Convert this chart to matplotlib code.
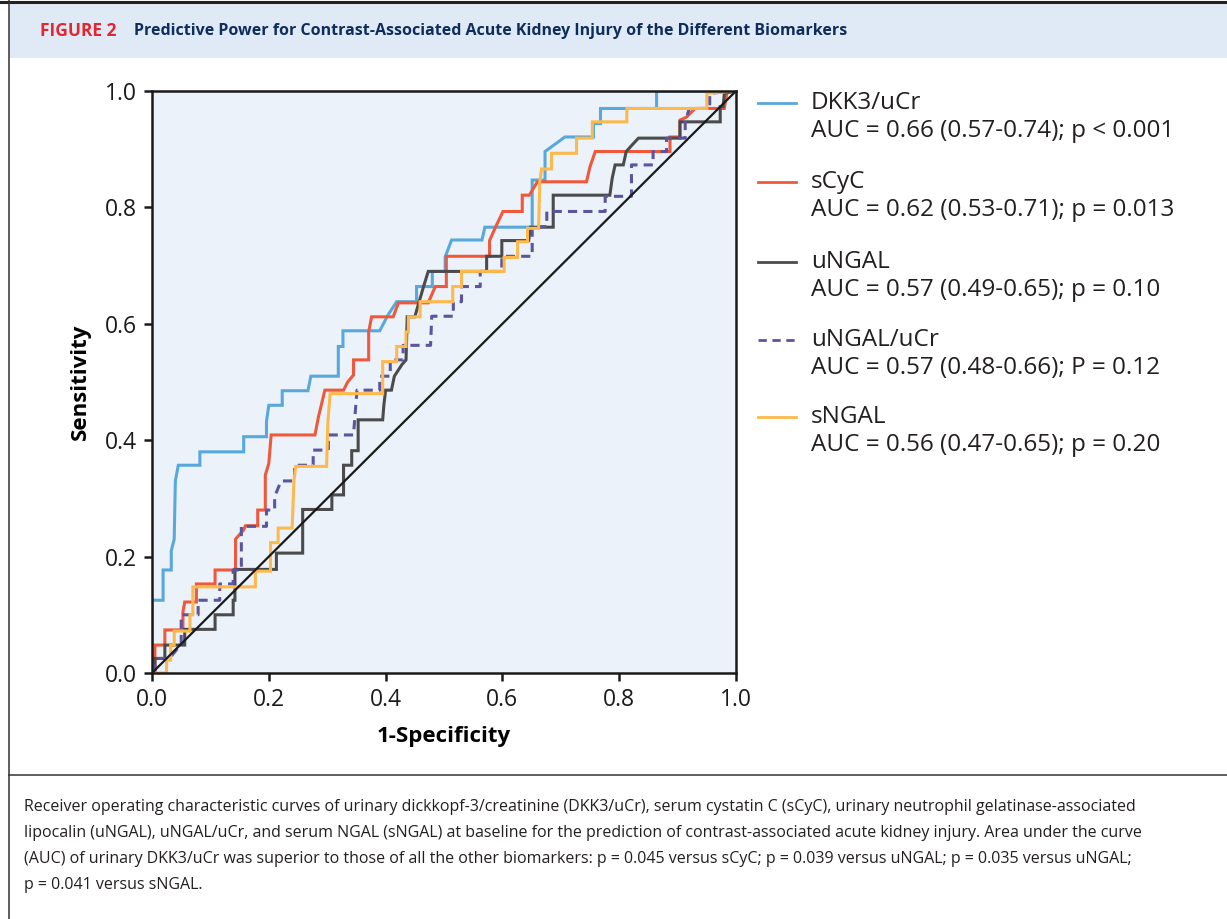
"""
ROC curves for contrast-associated AKI biomarkers (Figure 2 re-draw).
"""
import matplotlib
matplotlib.use("Agg")
import matplotlib.pyplot as plt
from matplotlib.lines import Line2D
from matplotlib.patches import Rectangle

plt.rcParams["font.family"] = ["Open Sans", "DejaVu Sans"]

# ── ROC step vertices (1-specificity, sensitivity) ────
DKK3_ROC = [(0, 0), (0, 0.125), (0.019, 0.125), (0.019, 0.177), (0.033, 0.177),
            (0.033, 0.210), (0.038, 0.230), (0.040, 0.330), (0.045, 0.357),
            (0.082, 0.357), (0.082, 0.380), (0.157, 0.380), (0.157, 0.406),
            (0.196, 0.406), (0.196, 0.432), (0.200, 0.460), (0.223, 0.460),
            (0.223, 0.485), (0.267, 0.485), (0.272, 0.510), (0.319, 0.510),
            (0.319, 0.561), (0.327, 0.561), (0.327, 0.588), (0.390, 0.588),
            (0.404, 0.615), (0.419, 0.638), (0.453, 0.638), (0.453, 0.664),
            (0.480, 0.664), (0.480, 0.690), (0.502, 0.690), (0.502, 0.715),
            (0.513, 0.744), (0.565, 0.744), (0.570, 0.766), (0.651, 0.766),
            (0.651, 0.847), (0.673, 0.847), (0.673, 0.896), (0.707, 0.921),
            (0.756, 0.921), (0.756, 0.944), (0.768, 0.944), (0.768, 0.970),
            (0.864, 0.970), (0.864, 1.0), (1.0, 1.0)]

SCYC_ROC = [(0, 0), (0.005, 0), (0.005, 0.048), (0.022, 0.048), (0.022, 0.074),
            (0.053, 0.074), (0.053, 0.105), (0.056, 0.122), (0.076, 0.122),
            (0.076, 0.153), (0.108, 0.153), (0.108, 0.177), (0.143, 0.177),
            (0.143, 0.230), (0.157, 0.246), (0.160, 0.253), (0.181, 0.253),
            (0.181, 0.280), (0.194, 0.280), (0.194, 0.340), (0.200, 0.360),
            (0.204, 0.409), (0.279, 0.409), (0.285, 0.440), (0.296, 0.486),
            (0.328, 0.486), (0.335, 0.500), (0.345, 0.512), (0.345, 0.538),
            (0.371, 0.538), (0.371, 0.586), (0.376, 0.612), (0.413, 0.612),
            (0.422, 0.636), (0.473, 0.636), (0.485, 0.664), (0.504, 0.664),
            (0.504, 0.716), (0.578, 0.716), (0.578, 0.743), (0.590, 0.770),
            (0.601, 0.793), (0.634, 0.793), (0.634, 0.821), (0.646, 0.821),
            (0.660, 0.844), (0.744, 0.844), (0.750, 0.870), (0.759, 0.896),
            (0.887, 0.896), (0.887, 0.921), (0.904, 0.921), (0.904, 0.950),
            (0.915, 0.955), (0.930, 0.970), (0.980, 0.970), (0.985, 1.0),
            (1.0, 1.0)]

UNGAL_ROC = [(0, 0), (0.005, 0), (0.005, 0.025), (0.022, 0.025), (0.022, 0.048),
             (0.056, 0.048), (0.056, 0.075), (0.108, 0.075), (0.108, 0.100),
             (0.139, 0.100), (0.139, 0.125), (0.142, 0.125), (0.142, 0.178),
             (0.213, 0.178), (0.213, 0.206), (0.258, 0.206), (0.258, 0.281),
             (0.308, 0.281), (0.308, 0.306), (0.328, 0.306), (0.328, 0.357),
             (0.342, 0.357), (0.342, 0.382), (0.353, 0.382), (0.353, 0.435),
             (0.395, 0.435), (0.397, 0.460), (0.400, 0.486), (0.410, 0.486),
             (0.415, 0.510), (0.428, 0.530), (0.435, 0.538), (0.437, 0.612),
             (0.450, 0.612), (0.458, 0.640), (0.465, 0.664), (0.473, 0.690),
             (0.573, 0.690), (0.573, 0.716), (0.599, 0.716), (0.599, 0.743),
             (0.645, 0.743), (0.648, 0.766), (0.687, 0.766), (0.687, 0.821),
             (0.784, 0.821), (0.788, 0.850), (0.793, 0.873), (0.807, 0.873),
             (0.812, 0.896), (0.820, 0.905), (0.833, 0.919), (0.904, 0.919),
             (0.904, 0.947), (0.973, 0.947), (0.973, 0.973), (0.978, 0.973),
             (0.980, 0.996), (1.0, 1.0)]

UNGAL_UCR_ROC = [(0, 0), (0.010, 0.025), (0.030, 0.025), (0.050, 0.050),
                 (0.050, 0.100), (0.079, 0.100), (0.079, 0.125), (0.116, 0.125),
                 (0.116, 0.153), (0.139, 0.153), (0.139, 0.177), (0.153, 0.177),
                 (0.153, 0.252), (0.196, 0.252), (0.196, 0.280), (0.210, 0.280),
                 (0.210, 0.303), (0.221, 0.330), (0.244, 0.330), (0.244, 0.357),
                 (0.276, 0.357), (0.276, 0.383), (0.302, 0.383), (0.302, 0.409),
                 (0.345, 0.409), (0.351, 0.486), (0.390, 0.486), (0.390, 0.510),
                 (0.408, 0.510), (0.408, 0.538), (0.430, 0.538), (0.430, 0.563),
                 (0.477, 0.563), (0.479, 0.613), (0.516, 0.613), (0.516, 0.638),
                 (0.530, 0.638), (0.530, 0.664), (0.562, 0.664), (0.562, 0.690),
                 (0.599, 0.690), (0.599, 0.716), (0.651, 0.716), (0.651, 0.767),
                 (0.676, 0.767), (0.676, 0.793), (0.776, 0.793), (0.776, 0.819),
                 (0.821, 0.819), (0.821, 0.873), (0.858, 0.873), (0.858, 0.896),
                 (0.881, 0.896), (0.881, 0.919), (0.913, 0.919), (0.913, 0.947),
                 (0.920, 0.970), (0.955, 0.970), (0.955, 0.996), (1.0, 1.0)]

SNGAL_ROC = [(0, 0), (0.025, 0), (0.025, 0.022), (0.032, 0.022), (0.032, 0.048),
             (0.038, 0.048), (0.038, 0.072), (0.065, 0.072), (0.065, 0.100),
             (0.070, 0.100), (0.070, 0.148), (0.177, 0.148), (0.177, 0.175),
             (0.203, 0.175), (0.203, 0.224), (0.216, 0.224), (0.216, 0.249),
             (0.240, 0.249), (0.243, 0.330), (0.246, 0.355), (0.299, 0.355),
             (0.301, 0.429), (0.305, 0.480), (0.395, 0.480), (0.395, 0.535),
             (0.419, 0.535), (0.419, 0.561), (0.435, 0.561), (0.435, 0.586),
             (0.439, 0.586), (0.439, 0.612), (0.459, 0.612), (0.459, 0.638),
             (0.515, 0.638), (0.515, 0.664), (0.530, 0.664), (0.530, 0.690),
             (0.603, 0.690), (0.603, 0.714), (0.626, 0.714), (0.626, 0.741),
             (0.643, 0.741), (0.643, 0.764), (0.662, 0.764), (0.664, 0.844),
             (0.667, 0.866), (0.684, 0.866), (0.684, 0.893), (0.727, 0.893),
             (0.727, 0.919), (0.754, 0.919), (0.754, 0.947), (0.813, 0.947),
             (0.813, 0.970), (0.950, 0.970), (0.950, 0.996), (1.0, 1.0)]

NAMES = ["DKK3/uCr", "sCyC", "uNGAL", "uNGAL/uCr", "sNGAL"]
AUC_TEXT = ["AUC = 0.66 (0.57-0.74); p < 0.001",
            "AUC = 0.62 (0.53-0.71); p = 0.013",
            "AUC = 0.57 (0.49-0.65); p = 0.10",
            "AUC = 0.57 (0.48-0.66); P = 0.12",
            "AUC = 0.56 (0.47-0.65); p = 0.20"]
CURVES = [DKK3_ROC, SCYC_ROC, UNGAL_ROC, UNGAL_UCR_ROC, SNGAL_ROC]
COLOURS = ["#58a8dc", "#f0583c", "#4b4b4d", "#5c559e", "#fdb94b"]
STYLES = ["-", "-", "-", (0, (3, 2)), "-"]

TICKS = [0.0, 0.2, 0.4, 0.6, 0.8, 1.0]

CAPTION = [
    "Receiver operating characteristic curves of urinary dickkopf-3/creatinine (DKK3/uCr), serum cystatin C (sCyC), urinary neutrophil gelatinase-associated",
    "lipocalin (uNGAL), uNGAL/uCr, and serum NGAL (sNGAL) at baseline for the prediction of contrast-associated acute kidney injury. Area under the curve",
    "(AUC) of urinary DKK3/uCr was superior to those of all the other biomarkers: p = 0.045 versus sCyC; p = 0.039 versus uNGAL; p = 0.035 versus uNGAL;",
    "p = 0.041 versus sNGAL.",
]

W, H = 1227, 919
fig = plt.figure(figsize=(W / 100, H / 100), dpi=100)
fig.patch.set_facecolor("white")

def fx(px):
    return px / W

def fy(py):
    return 1 - py / H

# ── Frame: header band, borders, caption separator ───────────────────────
fig.add_artist(Rectangle((fx(9), fy(58)), 1 - fx(9), fy(3) - fy(58),
                         transform=fig.transFigure, facecolor="#dfeaf6",
                         edgecolor="none", zorder=0))
fig.add_artist(Line2D([0, 1], [fy(1.5), fy(1.5)], transform=fig.transFigure,
                      color="#222222", lw=2.2))
fig.add_artist(Line2D([fx(8.5), fx(8.5)], [0, 1], transform=fig.transFigure,
                      color="#333333", lw=1.1))
fig.add_artist(Line2D([fx(8.5), 1], [fy(775), fy(775)], transform=fig.transFigure,
                      color="#333333", lw=1.1))

fig.text(fx(40), fy(31), "FIGURE 2", color="#e3262f", fontsize=12.5,
         fontweight="bold", va="center", ha="left")
fig.text(fx(134), fy(31),
         "Predictive Power for Contrast-Associated Acute Kidney Injury of the Different Biomarkers",
         color="#0f2d5c", fontsize=11.5, fontweight="bold", va="center", ha="left")

for i, line in enumerate(CAPTION):
    fig.text(fx(24), fy(807 + 26 * i), line, fontsize=11.5, color="#231f20",
             va="center", ha="left")

# ── ROC axes ──────────────────────────────────────────────────────────────
ax = fig.add_axes([fx(152), fy(673), fx(736) - fx(152), fy(91) - fy(673)])
ax.set_facecolor("#ebf2fa")

for pts, colour, ls in zip(CURVES, COLOURS, STYLES):
    xs = [p[0] for p in pts]
    ys = [p[1] for p in pts]
    ax.plot(xs, ys, color=colour, lw=2.2, ls=ls, solid_joinstyle="miter")

ax.plot([0, 1], [0, 1], color="#1a1a1a", lw=1.6, zorder=5)

ax.set_xlim(0, 1)
ax.set_ylim(0, 1)
ax.set_xticks(TICKS)
ax.set_yticks(TICKS)
ax.set_xticklabels([f"{t:.1f}" for t in TICKS])
ax.set_yticklabels([f"{t:.1f}" for t in TICKS])
ax.tick_params(direction="out", length=6, width=1.8, labelsize=16.5,
               colors="#1a1a1a", pad=5)
for s in ax.spines.values():
    s.set_linewidth(1.8)
    s.set_color("#1a1a1a")
ax.set_xlabel("1-Specificity", fontsize=16, fontweight="bold", labelpad=10)
ax.set_ylabel("Sensitivity", fontsize=16, fontweight="bold", labelpad=10)

# ── Legend, drawn by hand so the key sits on the first text line ─────────
LEG_ROW1 = [103, 182, 262, 340, 417]
for name, auc, colour, ls, row in zip(NAMES, AUC_TEXT, COLOURS, STYLES, LEG_ROW1):
    fig.add_artist(Line2D([fx(758), fx(796)], [fy(row), fy(row)],
                          transform=fig.transFigure, color=colour, lw=2, ls=ls))
    fig.text(fx(811), fy(row), name, fontsize=17.5, color="#231f20",
             va="center", ha="left")
    fig.text(fx(811), fy(row + 28), auc, fontsize=17.5, color="#231f20",
             va="center", ha="left")

fig.savefig("out.png", dpi=100, facecolor=fig.get_facecolor())
